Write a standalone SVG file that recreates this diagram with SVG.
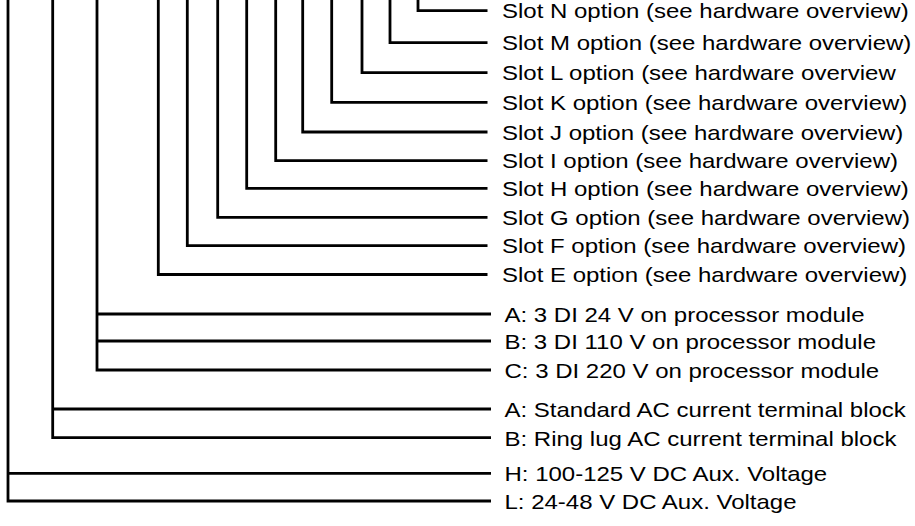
<svg xmlns="http://www.w3.org/2000/svg" width="915" height="526" viewBox="0 0 915 526">
<style>
.c{fill:none;stroke:#000;stroke-width:2.8;stroke-linejoin:miter}
.t{font-family:"Liberation Sans",Arial,sans-serif;font-size:20px;fill:#000}
</style>
<rect width="915" height="526" fill="#fff"/>
<g id="connectors">
<path class="c" d="M418,0 V10.7 H487.5"/>
<path class="c" d="M390,0 V42.7 H487.5"/>
<path class="c" d="M362,0 V72.7 H487.5"/>
<path class="c" d="M331.7,0 V102.3 H487.5"/>
<path class="c" d="M302.7,0 V132 H487.5"/>
<path class="c" d="M275.7,0 V160.7 H487.5"/>
<path class="c" d="M246.7,0 V188.3 H487.5"/>
<path class="c" d="M217.7,0 V217.3 H487.5"/>
<path class="c" d="M187.3,0 V245.7 H487.5"/>
<path class="c" d="M158.3,0 V274.5 H487.5"/>
<path class="c" d="M97,0 V370 H491 M97,341 H491 M97,314 H491"/>
<path class="c" d="M52.7,0 V437.7 H491 M52.7,409 H491"/>
<path class="c" d="M8,0 V501 H491 M8,473.3 H491"/>
</g>
<g id="slotN"><text class="t" transform="translate(502,18.2) scale(1.2,1)">Slot N option (see hardware overview)</text></g>
<g id="slotM"><text class="t" transform="translate(502,50.2) scale(1.2,1)">Slot M option (see hardware overview)</text></g>
<g id="slotL"><text class="t" transform="translate(502,80.2) scale(1.2,1)">Slot L option (see hardware overview</text></g>
<g id="slotK"><text class="t" transform="translate(502,109.8) scale(1.2,1)">Slot K option (see hardware overview)</text></g>
<g id="slotJ"><text class="t" transform="translate(502,139.5) scale(1.2,1)">Slot J option (see hardware overview)</text></g>
<g id="slotI"><text class="t" transform="translate(502,168.2) scale(1.2,1)">Slot I option (see hardware overview)</text></g>
<g id="slotH"><text class="t" transform="translate(502,195.8) scale(1.2,1)">Slot H option (see hardware overview)</text></g>
<g id="slotG"><text class="t" transform="translate(502,224.8) scale(1.2,1)">Slot G option (see hardware overview)</text></g>
<g id="slotF"><text class="t" transform="translate(502,253.2) scale(1.2,1)">Slot F option (see hardware overview)</text></g>
<g id="slotE"><text class="t" transform="translate(502,282) scale(1.2,1)">Slot E option (see hardware overview)</text></g>
<g id="diA"><text class="t" transform="translate(504.5,322) scale(1.2,1)">A: 3 DI 24 V on processor module</text></g>
<g id="diB"><text class="t" transform="translate(504.5,349) scale(1.2,1)">B: 3 DI 110 V on processor module</text></g>
<g id="diC"><text class="t" transform="translate(504.5,378) scale(1.2,1)">C: 3 DI 220 V on processor module</text></g>
<g id="acA"><text class="t" transform="translate(504.5,417) scale(1.2,1)">A: Standard AC current terminal block</text></g>
<g id="acB"><text class="t" transform="translate(504.5,445.7) scale(1.2,1)">B: Ring lug AC current terminal block</text></g>
<g id="auxH"><text class="t" transform="translate(504.5,481.3) scale(1.2,1)">H: 100-125 V DC Aux. Voltage</text></g>
<g id="auxL"><text class="t" transform="translate(504.5,509) scale(1.2,1)">L: 24-48 V DC Aux. Voltage</text></g>
</svg>
